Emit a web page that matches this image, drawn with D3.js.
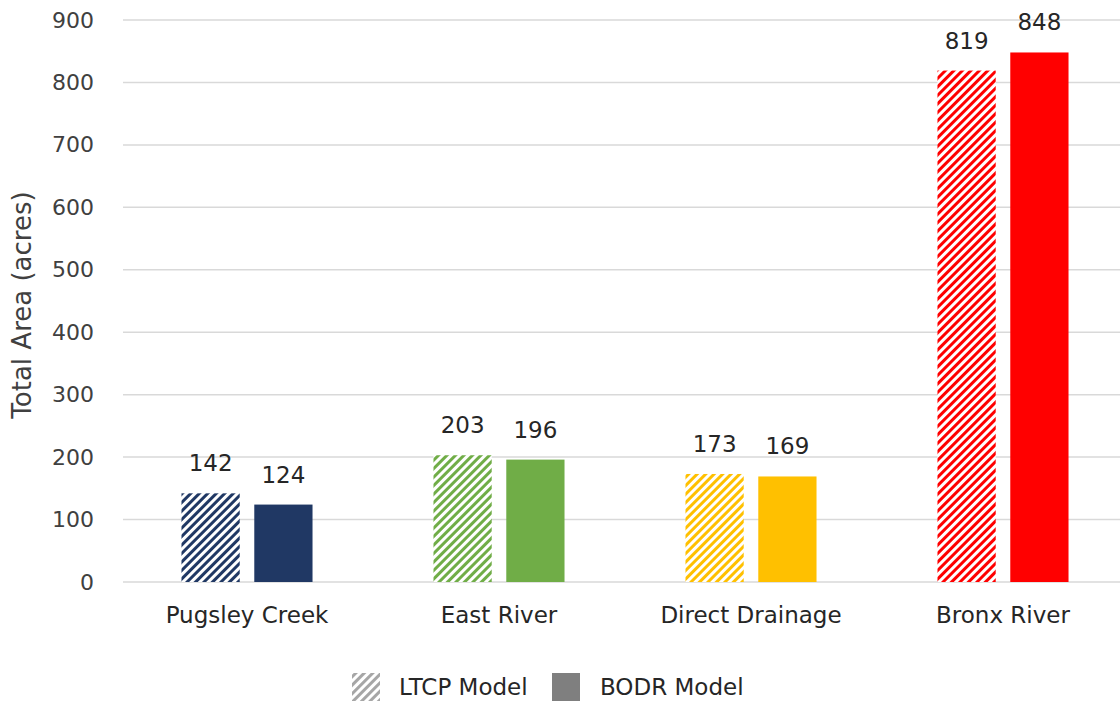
<!DOCTYPE html>
<html>
<head>
<meta charset="utf-8">
<script src="https://cdn.jsdelivr.net/npm/d3@7"></script>
<style>
  body { margin: 0; background: #fff; }
  svg { display: block; font-family: "DejaVu Sans", sans-serif; }
</style>
</head>
<body>
<div id="chart"></div>
<script>
'use strict';

const categories = ["Pugsley Creek", "East River", "Direct Drainage", "Bronx River"];
const seriesNames = ["LTCP Model", "BODR Model"];
const ltcpValues = [142, 203, 173, 819];
const bodrValues = [124, 196, 169, 848];
const categoryColors = ["#203864", "#70ad47", "#ffc000", "#ff0000"];
const yTicks = [0, 100, 200, 300, 400, 500, 600, 700, 800, 900];

const width = 1120;
const height = 705;
const textColor = "#404040";

const svg = d3.select("#chart")
    .append("svg")
    .attr("width", width)
    .attr("height", height);

const defs = svg.append("defs");

// hatch pattern, "/" direction
function addHatch(id, color) {
    const p = defs.append("pattern")
        .attr("id", id)
        .attr("patternUnits", "userSpaceOnUse")
        .attr("width", 6)
        .attr("height", 6)
        .attr("patternTransform", "rotate(45)");
    p.append("rect").attr("width", 6).attr("height", 6).attr("fill", "#fff");
    p.append("line")
        .attr("x1", 1.5).attr("y1", 0)
        .attr("x2", 1.5).attr("y2", 6)
        .attr("stroke", color)
        .attr("stroke-width", 3);
}
categoryColors.forEach((c, i) => addHatch("hatch" + i, c));
addHatch("hatchGrey", "#a6a6a6");

//Create scale functions
const y = d3.scaleLinear()
    .domain([0, 900])
    .range([582, 20]);

const x0 = d3.scaleBand()
    .domain(categories)
    .range([121, 1129])
    .paddingInner(0.48)
    .paddingOuter(0.24);

const x1 = d3.scaleBand()
    .domain(seriesNames)
    .range([0, x0.bandwidth()])
    .paddingInner(0.2);

// gridlines
svg.append("g")
    .selectAll("line")
    .data(yTicks)
    .enter()
    .append("line")
    .attr("x1", 123)
    .attr("x2", width)
    .attr("y1", d => y(d))
    .attr("y2", d => y(d))
    .attr("stroke", "#d9d9d9")
    .attr("stroke-width", 1.5);

// y axis tick labels
const yAxis = svg.append("g")
    .attr("transform", "translate(123,0)")
    .call(d3.axisLeft(y).tickValues(yTicks).tickSize(0).tickPadding(29));
yAxis.select(".domain").remove();
yAxis.selectAll("text")
    .attr("font-family", "\"DejaVu Sans\", sans-serif")
    .attr("font-size", "22px")
    .attr("fill", textColor);

// x axis category labels
const xAxis = svg.append("g")
    .attr("transform", "translate(0,582)")
    .call(d3.axisBottom(x0).tickSize(0).tickPadding(25));
xAxis.select(".domain").remove();
xAxis.selectAll("text")
    .attr("font-family", "\"DejaVu Sans\", sans-serif")
    .attr("font-size", "23px")
    .attr("fill", "#262626");

// y axis title
svg.append("text")
    .text("Total Area (acres)")
    .attr("transform", "translate(31,305) rotate(-90)")
    .attr("text-anchor", "middle")
    .attr("font-size", "26px")
    .attr("fill", textColor);

// bars
const groups = svg.append("g")
    .selectAll("g")
    .data(categories)
    .enter()
    .append("g")
    .attr("transform", d => "translate(" + x0(d) + ",0)");

groups.each(function(cat, i) {
    const g = d3.select(this);
    const vals = [ltcpValues[i], bodrValues[i]];
    g.selectAll("rect")
        .data(vals)
        .enter()
        .append("rect")
        .attr("x", (d, j) => x1(seriesNames[j]))
        .attr("y", d => y(d))
        .attr("width", x1.bandwidth())
        .attr("height", d => y(0) - y(d))
        .attr("fill", (d, j) => j === 0 ? "url(#hatch" + i + ")" : categoryColors[i]);

    // value labels
    g.selectAll("text")
        .data(vals)
        .enter()
        .append("text")
        .text(d => d)
        .attr("x", (d, j) => x1(seriesNames[j]) + x1.bandwidth() / 2)
        .attr("y", d => y(d) - 22)
        .attr("text-anchor", "middle")
        .attr("font-size", "23px")
        .attr("fill", "#262626");
});

// legend
const legend = svg.append("g");
const legendItems = [
    { name: seriesNames[0], fill: "url(#hatchGrey)", x: 352, tx: 399 },
    { name: seriesNames[1], fill: "#7f7f7f", x: 552, tx: 600 }
];
legend.selectAll("rect")
    .data(legendItems)
    .enter()
    .append("rect")
    .attr("x", d => d.x)
    .attr("y", 673)
    .attr("width", 28)
    .attr("height", 28)
    .attr("fill", d => d.fill);
legend.selectAll("text")
    .data(legendItems)
    .enter()
    .append("text")
    .text(d => d.name)
    .attr("x", d => d.tx)
    .attr("y", 695)
    .attr("font-size", "23px")
    .attr("fill", "#262626");
</script>
</body>
</html>
